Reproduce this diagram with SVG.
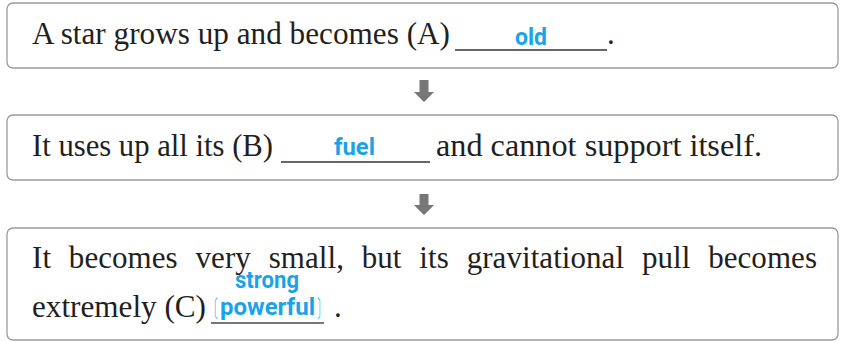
<svg xmlns="http://www.w3.org/2000/svg" width="844" height="342" viewBox="0 0 844 342">
<style>
.box{fill:#fff;stroke:#9a9a9a;stroke-width:1.3}
.t{font-family:"Liberation Serif","Times New Roman",serif;font-size:31px;fill:#231f20}
.a{font-family:Roboto,"Liberation Sans",sans-serif;font-weight:bold;font-size:23px;fill:#1aa3e8}
.br{font-family:"Noto Sans CJK KR","Noto Sans CJK SC",sans-serif;font-weight:300;font-size:24px;fill:#1aa3e8}
.ul{stroke:#333;stroke-width:1.3}
.arr{fill:#777}
</style>
<g id="node1">
<rect class="box" x="7" y="3" width="831" height="65" rx="6"/>
<text class="t" x="32" y="44" textLength="418" lengthAdjust="spacingAndGlyphs">A star grows up and becomes (A)</text>
<line class="ul" x1="455" y1="50" x2="607" y2="50"/>
<text class="a" x="531" y="45" text-anchor="middle" textLength="32" lengthAdjust="spacingAndGlyphs">old</text>
<text class="t" x="607" y="44">.</text>
</g>
<g id="node2">
<rect class="box" x="7" y="115" width="831" height="65" rx="6"/>
<text class="t" x="32" y="156" textLength="241" lengthAdjust="spacingAndGlyphs">It uses up all its (B)</text>
<line class="ul" x1="281" y1="162" x2="430" y2="162"/>
<text class="a" x="354.5" y="155" text-anchor="middle" textLength="41" lengthAdjust="spacingAndGlyphs">fuel</text>
<text class="t" x="436" y="156" textLength="326" lengthAdjust="spacingAndGlyphs">and cannot support itself.</text>
</g>
<g id="node3">
<rect class="box" x="7" y="228" width="831" height="112" rx="6"/>
<text class="t" x="32" y="268" word-spacing="10" textLength="785" lengthAdjust="spacing">It becomes very small, but its gravitational pull becomes</text>
<text class="t" x="32" y="317" textLength="174" lengthAdjust="spacingAndGlyphs">extremely (C)</text>
<text class="a" x="267" y="288" text-anchor="middle" textLength="64" lengthAdjust="spacingAndGlyphs">strong</text>
<text class="br" x="218" y="317" text-anchor="end" textLength="11" lengthAdjust="spacingAndGlyphs">〔</text>
<text class="a" x="220" y="315" textLength="95" lengthAdjust="spacingAndGlyphs">powerful</text>
<text class="br" x="317" y="317" textLength="11" lengthAdjust="spacingAndGlyphs">〕</text>
<line x1="211" y1="323" x2="324" y2="323" stroke="#777" stroke-width="2"/>
<text class="t" x="334" y="317">.</text>
</g>
<g id="connectors">
<path class="arr" d="M419.5 80 H428.5 V92 H434 L424 102 L414 92 H419.5 Z"/>
<path class="arr" d="M419.5 194 H428.5 V205 H434 L424 215 L414 205 H419.5 Z"/>
</g>
</svg>
